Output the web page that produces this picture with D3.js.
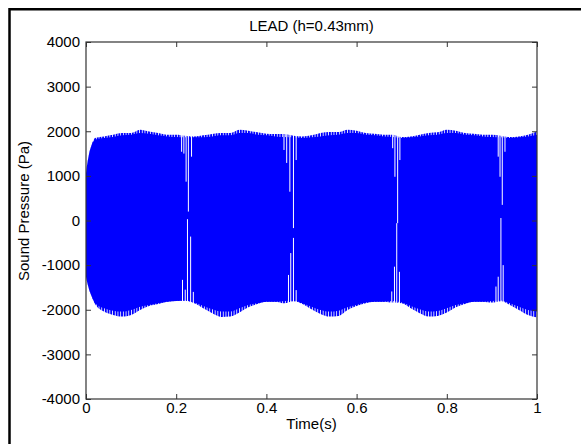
<!DOCTYPE html>
<html lang="en">
<head>
<meta charset="UTF-8">
<title>LEAD (h=0.43mm)</title>
<script src="https://cdn.jsdelivr.net/npm/d3@7"></script>
<style>
  body { margin: 0; background: #ffffff; }
  svg text { font-family: "Liberation Sans", Arial, sans-serif; font-size: 15px; fill: #000; }
</style>
</head>
<body>
<script>
// envelope of the pressure signal
var envT = [0, 0.005, 0.0125, 0.02, 0.04, 0.06, 0.08, 0.10, 0.12, 0.14, 0.16, 0.18, 0.20,
  0.22, 0.24, 0.26, 0.28, 0.30, 0.32, 0.34, 0.36, 0.38, 0.40, 0.42, 0.44, 0.46, 0.48,
  0.50, 0.52, 0.54, 0.56, 0.58, 0.60, 0.62, 0.64, 0.66, 0.68, 0.70, 0.72, 0.74, 0.76,
  0.78, 0.80, 0.82, 0.84, 0.86, 0.88, 0.90, 0.92, 0.94, 0.96, 0.98, 1.00];
var upperBase = [1060, 1400, 1690, 1811, 1848, 1870, 1908, 1923, 1960, 1945, 1908, 1885, 1870,
  1863, 1863, 1863, 1885, 1908, 1908, 1960, 1960, 1923, 1908, 1885, 1870, 1863, 1848,
  1863, 1885, 1908, 1923, 1960, 1960, 1923, 1908, 1885, 1870, 1848, 1863, 1885, 1908,
  1923, 1960, 1960, 1923, 1908, 1885, 1870, 1863, 1848, 1863, 1885, 1923];
var upperPeak = [1060, 1400, 1690, 1848, 1885, 1923, 1960, 1960, 2035, 1997, 1960, 1923, 1923,
  1900, 1885, 1908, 1938, 1960, 1960, 2035, 2012, 1975, 1945, 1938, 1938, 1900, 1885,
  1908, 1960, 1983, 1983, 2035, 2012, 1960, 1945, 1923, 1923, 1870, 1885, 1923, 1960,
  1975, 2035, 2012, 1960, 1945, 1923, 1923, 1900, 1870, 1885, 1923, 1997];
var lowerBase = [-1260, -1480, -1700, -1855, -1968, -2020, -2042, -2005, -1930, -1893, -1855, -1818, -1803,
  -1790, -1840, -1915, -1990, -2042, -2042, -1968, -1893, -1855, -1818, -1818, -1803, -1790, -1855,
  -1930, -2005, -2042, -2020, -1945, -1893, -1840, -1818, -1818, -1803, -1840, -1915, -1990, -2042,
  -2027, -1968, -1893, -1855, -1818, -1818, -1803, -1790, -1855, -1930, -2005, -2042];
var lowerPeak = [-1260, -1480, -1700, -1870, -2042, -2117, -2154, -2117, -2005, -1915, -1870, -1818, -1803,
  -1800, -1855, -1968, -2079, -2160, -2154, -2064, -1945, -1870, -1818, -1818, -1855, -1810, -1870,
  -1990, -2094, -2154, -2139, -2005, -1915, -1855, -1818, -1818, -1840, -1855, -1968, -2079, -2154,
  -2139, -2064, -1945, -1870, -1818, -1818, -1840, -1810, -1893, -2005, -2117, -2169];

// short cycles where the pressure drops near each valve closing
var topNotchT = [0.212, 0.217, 0.222, 0.227, 0.234,
  0.439, 0.445, 0.452, 0.460, 0.466,
  0.680, 0.685, 0.691, 0.696,
  0.914, 0.918, 0.923, 0.929];
var topNotchV = [1540, 1500, 870, 200, 1430,
  1580, 1290, 645, -170, 1355,
  1620, 980, -60, 1355,
  1430, 980, 350, 1540];
var botNotchT = [0.214, 0.220, 0.225, 0.232, 0.238,
  0.449, 0.454, 0.460, 0.466,
  0.678, 0.684, 0.689, 0.695,
  0.909, 0.914, 0.920, 0.925];
var botNotchV = [-1330, -1550, 30, -360, -1600,
  -1220, -730, -390, -1560,
  -1590, -1035, -60, -1150,
  -1480, -1260, 55, -1000];

var xTicks = [0, 0.2, 0.4, 0.6, 0.8, 1];
var yTicks = [-4000, -3000, -2000, -1000, 0, 1000, 2000, 3000, 4000];

var W = 581, H = 444;
var mLeft = 86, mRight = 537, mTop = 42, mBottom = 399;

var svg = d3.select("body").append("svg")
  .attr("width", W)
  .attr("height", H);

// figure frame (only left and top edges fall inside the picture)
svg.append("path")
  .attr("d", "M9.5," + H + "V9.3H" + W)
  .attr("fill", "none")
  .attr("stroke", "#000")
  .attr("stroke-width", 2.5);

var x = d3.scaleLinear().domain([0, 1]).range([mLeft, mRight]);
var y = d3.scaleLinear().domain([-4000, 4000]).range([mBottom, mTop]);

var defs = svg.append("defs");
defs.append("clipPath").attr("id", "plotclip")
  .append("rect")
  .attr("x", mLeft).attr("y", mTop)
  .attr("width", mRight - mLeft).attr("height", mBottom - mTop);

var pat = defs.append("pattern")
  .attr("id", "cycles")
  .attr("patternUnits", "userSpaceOnUse")
  .attr("x", mLeft)
  .attr("width", 2.7)
  .attr("height", 10);
pat.append("rect").attr("width", 2.7).attr("height", 10).attr("fill", "#e6e6ff");
pat.append("rect").attr("width", 1.8).attr("height", 10).attr("fill", "#0000ff");

var idx = d3.range(envT.length);
var plot = svg.append("g").attr("clip-path", "url(#plotclip)");

var fringeUp = d3.area()
  .curve(d3.curveMonotoneX)
  .x(function(i) { return x(envT[i]) })
  .y0(function(i) { return y(upperBase[i]) + 1 })
  .y1(function(i) { return y(upperPeak[i]) });
var fringeDown = d3.area()
  .curve(d3.curveMonotoneX)
  .x(function(i) { return x(envT[i]) })
  .y0(function(i) { return y(lowerBase[i]) - 1 })
  .y1(function(i) { return y(lowerPeak[i]) });
var body = d3.area()
  .curve(d3.curveMonotoneX)
  .x(function(i) { return x(envT[i]) })
  .y0(function(i) { return y(lowerBase[i]) })
  .y1(function(i) { return y(upperBase[i]) });

plot.append("path").datum(idx).attr("d", fringeUp).attr("fill", "url(#cycles)");
plot.append("path").datum(idx).attr("d", fringeDown).attr("fill", "url(#cycles)");
plot.append("path").datum(idx).attr("d", body).attr("fill", "#0000ff");

plot.selectAll("line.topnotch")
  .data(d3.range(topNotchT.length))
  .enter()
  .append("line")
  .attr("class", "topnotch")
  .attr("x1", function(i) { return x(topNotchT[i]) })
  .attr("x2", function(i) { return x(topNotchT[i]) })
  .attr("y1", y(2300))
  .attr("y2", function(i) { return y(topNotchV[i]) })
  .attr("stroke", "#ffffff")
  .attr("stroke-width", 1);

plot.selectAll("line.botnotch")
  .data(d3.range(botNotchT.length))
  .enter()
  .append("line")
  .attr("class", "botnotch")
  .attr("x1", function(i) { return x(botNotchT[i]) })
  .attr("x2", function(i) { return x(botNotchT[i]) })
  .attr("y1", y(-2300))
  .attr("y2", function(i) { return y(botNotchV[i]) })
  .attr("stroke", "#ffffff")
  .attr("stroke-width", 1);

// axes, matlab style: inward ticks on all four sides
var axisColor = "#333";
function styleAxis(g) {
  g.select(".domain").remove();
  g.selectAll(".tick line").attr("stroke", axisColor);
  g.selectAll(".tick text").attr("fill", "#000").style("font-size", "15px")
    .style("font-family", "'Liberation Sans', Arial, sans-serif");
}

svg.append("g")
  .attr("transform", "translate(0," + mBottom + ")")
  .call(d3.axisBottom(x).tickValues(xTicks).tickSize(-5).tickPadding(3)
    .tickFormat(function(d) { return String(d) }))
  .call(styleAxis);
svg.append("g")
  .attr("transform", "translate(0," + mTop + ")")
  .call(d3.axisTop(x).tickValues(xTicks).tickSize(-5).tickFormat(""))
  .call(styleAxis);
svg.append("g")
  .attr("transform", "translate(" + mLeft + ",0)")
  .call(d3.axisLeft(y).tickValues(yTicks).tickSize(-5).tickPadding(6)
    .tickFormat(function(d) { return String(d) }))
  .call(styleAxis);
svg.append("g")
  .attr("transform", "translate(" + mRight + ",0)")
  .call(d3.axisRight(y).tickValues(yTicks).tickSize(-5).tickFormat(""))
  .call(styleAxis);

svg.append("rect")
  .attr("x", mLeft).attr("y", mTop)
  .attr("width", mRight - mLeft).attr("height", mBottom - mTop)
  .attr("fill", "none")
  .attr("stroke", axisColor)
  .attr("stroke-width", 1.2);

svg.append("text")
  .attr("x", (mLeft + mRight) / 2)
  .attr("y", 31)
  .attr("text-anchor", "middle")
  .text("LEAD (h=0.43mm)");

svg.append("text")
  .attr("x", (mLeft + mRight) / 2)
  .attr("y", 429)
  .attr("text-anchor", "middle")
  .text("Time(s)");

svg.append("text")
  .attr("transform", "translate(29,211) rotate(-90)")
  .attr("text-anchor", "middle")
  .text("Sound Pressure (Pa)");
</script>
</body>
</html>
